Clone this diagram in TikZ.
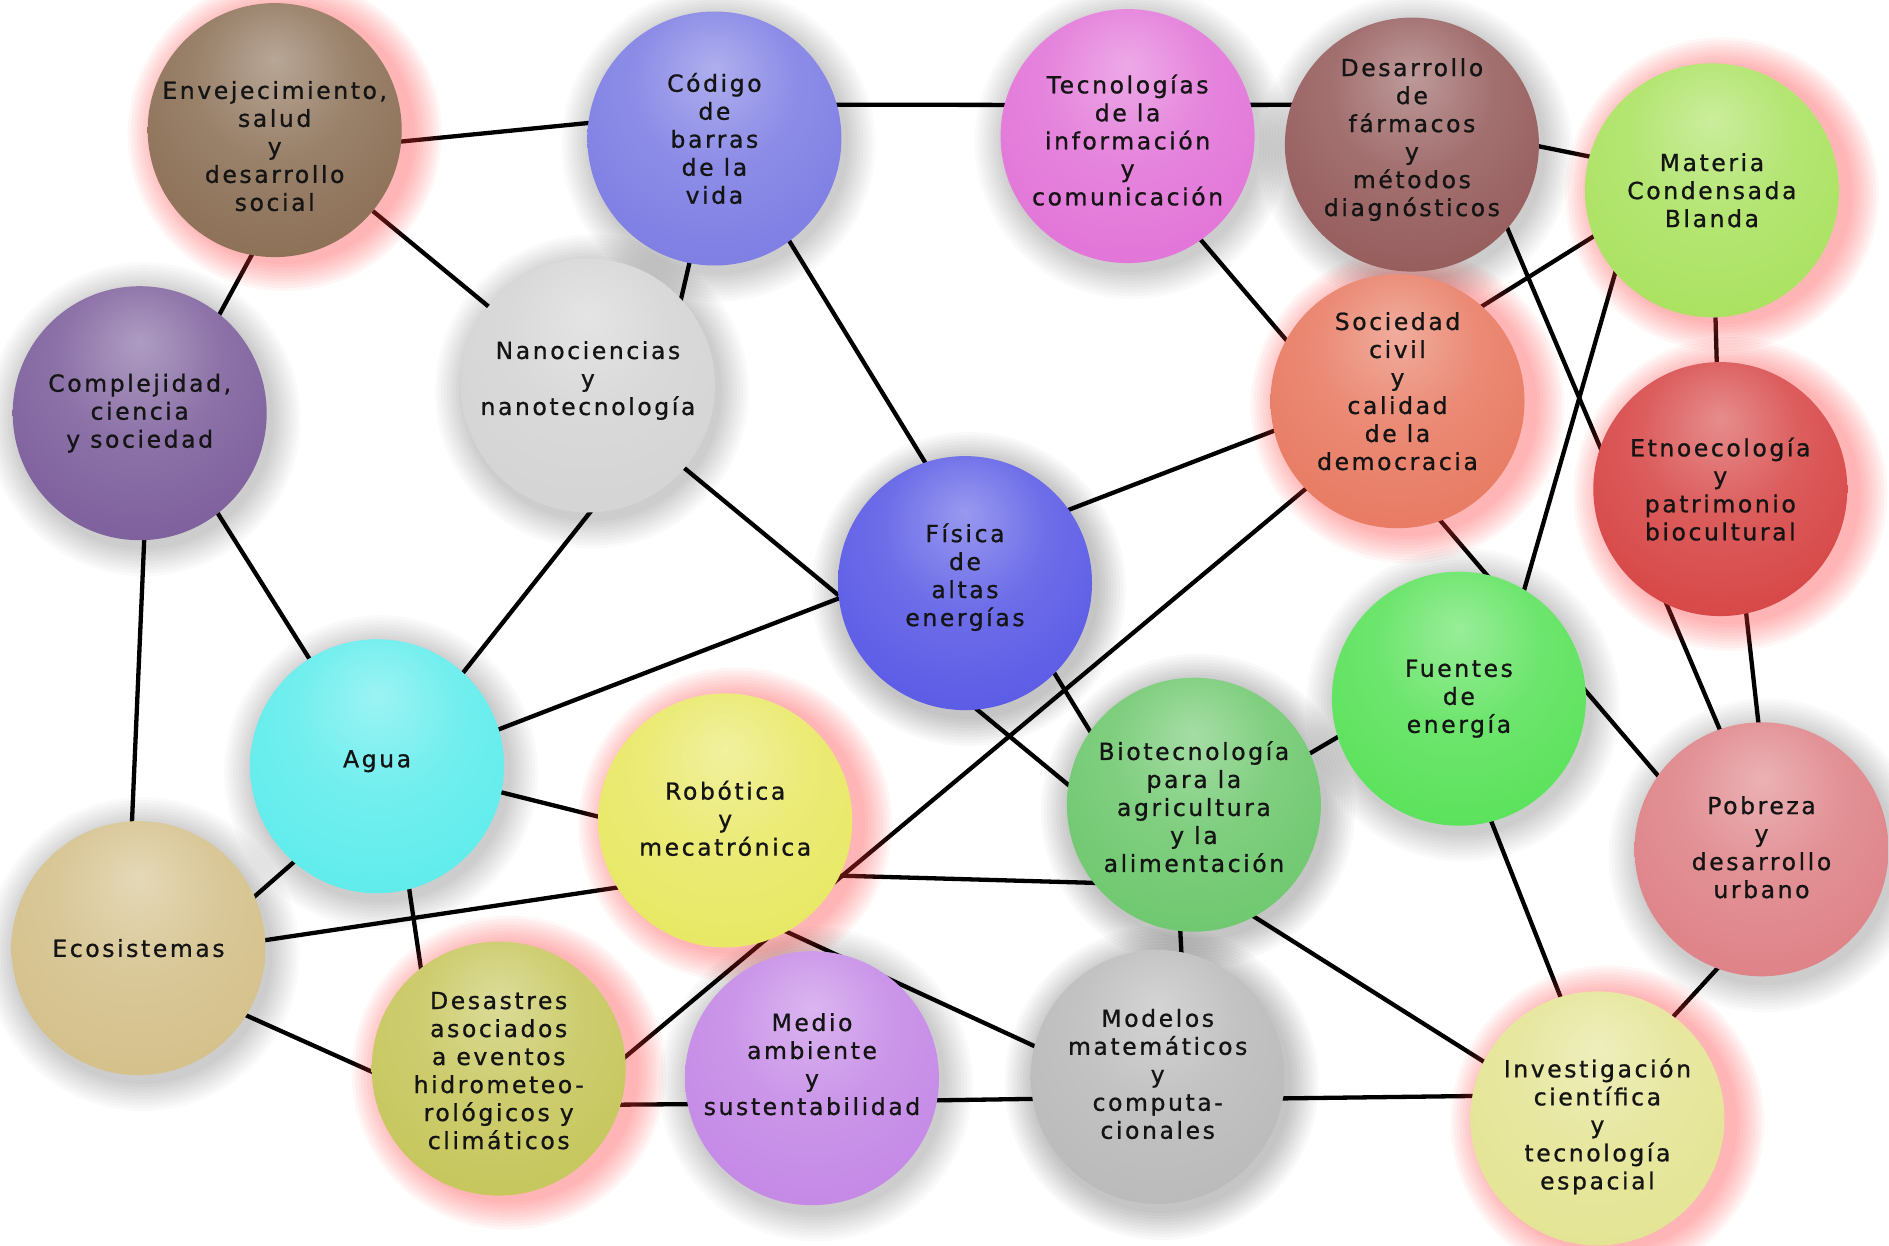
\documentclass[tikz,border=0pt]{standalone}
\usepackage{fontspec}
\newfontfamily\lblfont{DejaVu Sans}[LetterSpace=11,FakeBold=0.9]
\usetikzlibrary{calc}
\pgfdeclarelayer{edges}
\pgfdeclarelayer{glow}
\pgfsetlayers{edges,glow,main}
\colorlet{sphc}{gray}
\pgfdeclareradialshading[sphc]{sphshade}{\pgfpoint{0bp}{14bp}}{%
  color(0bp)=(sphc!62!white);
  color(16bp)=(sphc!88!white);
  color(34bp)=(sphc);
  color(50bp)=(sphc!85!black);
  color(60bp)=(sphc!60!black);
  color(70bp)=(sphc!40!black)}
\definecolor{cEnv}{RGB}{140,112,86}
\definecolor{cCod}{RGB}{125,125,228}
\definecolor{cTec}{RGB}{226,116,216}
\definecolor{cFar}{RGB}{150,92,92}
\definecolor{cMat}{RGB}{170,226,96}
\definecolor{cCom}{RGB}{125,95,156}
\definecolor{cNan}{RGB}{212,212,212}
\definecolor{cSoc}{RGB}{232,122,98}
\definecolor{cEtn}{RGB}{215,70,70}
\definecolor{cFis}{RGB}{90,90,230}
\definecolor{cFue}{RGB}{90,226,90}
\definecolor{cAgu}{RGB}{95,236,236}
\definecolor{cBio}{RGB}{110,200,110}
\definecolor{cRob}{RGB}{232,232,100}
\definecolor{cPob}{RGB}{222,130,135}
\definecolor{cEco}{RGB}{212,192,138}
\definecolor{cDes}{RGB}{198,198,92}
\definecolor{cMed}{RGB}{196,136,230}
\definecolor{cMod}{RGB}{186,186,186}
\definecolor{cInv}{RGB}{228,228,148}
\definecolor{glowred}{RGB}{255,60,60}
\newcommand\softhalo[5]{%
  \begin{pgfonlayer}{glow}
    \foreach \k in {1,...,10}{\fill[#2,opacity=#5] ($(#1)+(#3,#4)$) circle[radius=127pt+3pt*\k];}
  \end{pgfonlayer}}
\tikzset{
  sph/.style={circle, minimum size=254pt, inner sep=0pt, /utils/exec={\colorlet{sphc}{#1}}, shading=sphshade},
  lbl/.style={font=\lblfont\fontsize{23.5}{28}\selectfont, align=center, text=black!92, inner sep=0pt},
  edge/.style={draw=black, line width=4.3pt}
}
\begin{document}
\begin{tikzpicture}[x=1pt,y=-1pt]
\useasboundingbox (0,0) rectangle (1889,1246);
\begin{pgfonlayer}{edges}
\fill[white] (0,0) rectangle (1889,1246);
\end{pgfonlayer}
% spheres
\node[sph=cEnv] (env) at (274.7,130.1) {};
\node[sph=cCod] (cod) at (714.4,138.5) {};
\node[sph=cTec] (tec) at (1127.6,136.1) {};
\node[sph=cFar] (far) at (1411.9,144.6) {};
\node[sph=cMat] (mat) at (1711.9,190.3) {};
\node[sph=cCom] (com) at (139.7,413.2) {};
\node[sph=cNan] (nan) at (587.9,385.5) {};
\node[sph=cSoc] (soc) at (1397.5,401.2) {};
\node[sph=cEtn] (etn) at (1720.3,489.1) {};
\node[sph=cFis] (fis) at (965,583.1) {};
\node[sph=cFue] (fue) at (1458.9,698.7) {};
\node[sph=cAgu] (agu) at (377.1,766.2) {};
\node[sph=cBio] (bio) at (1193.9,804.7) {};
\node[sph=cRob] (rob) at (725.2,820.4) {};
\node[sph=cPob] (pob) at (1761.5,849.3) {};
\node[sph=cEco] (eco) at (138.5,948.1) {};
\node[sph=cDes] (des) at (498.7,1068.6) {};
\node[sph=cMed] (med) at (812,1078.2) {};
\node[sph=cMod] (mod) at (1157.7,1077) {};
\node[sph=cInv] (inv) at (1597.4,1118.4) {};
% labels
\node[lbl] (env-t) at ($(env)+(0,16)$) {Envejecimiento,\\salud\\y\\desarrollo\\social};
\node[lbl] (cod-t) at ($(cod)+(0,0)$) {Código\\de\\barras\\de la\\vida};
\node[lbl] (tec-t) at ($(tec)+(0,4)$) {Tecnologías\\de la\\información\\y\\comunicación};
\node[lbl] (far-t) at ($(far)+(0,-5)$) {Desarrollo\\de\\fármacos\\y\\métodos\\diagnósticos};
\node[lbl] (mat-t) at ($(mat)+(0,0)$) {Materia\\Condensada\\Blanda};
\node[lbl] (com-t) at ($(com)+(0,0)$) {Complejidad,\\ciencia\\y sociedad};
\node[lbl] (nan-t) at ($(nan)+(0,-5)$) {Nanociencias\\y\\nanotecnología};
\node[lbl] (soc-t) at ($(soc)+(0,-10)$) {Sociedad\\civil\\y\\calidad\\de la\\democracia};
\node[lbl] (etn-t) at ($(etn)+(0,0)$) {Etnoecología\\y\\patrimonio\\biocultural};
\node[lbl] (fis-t) at ($(fis)+(0,-6)$) {Física\\de\\altas\\energías};
\node[lbl] (fue-t) at ($(fue)+(0,0)$) {Fuentes\\de\\energía};
\node[lbl] (agu-t) at ($(agu)+(0,-5)$) {Agua};
\node[lbl] (bio-t) at ($(bio)+(0,2)$) {Biotecnología\\para la\\agricultura\\y la\\alimentación};
\node[lbl] (rob-t) at ($(rob)+(0,-2)$) {Robótica\\y\\mecatrónica};
\node[lbl] (pob-t) at ($(pob)+(0,-2)$) {Pobreza\\y\\desarrollo\\urbano};
\node[lbl] (eco-t) at ($(eco)+(0,0)$) {Ecosistemas};
\node[lbl] (des-t) at ($(des)+(0,2)$) {Desastres\\asociados\\a eventos\\hidrometeo-\\rológicos y\\climáticos};
\node[lbl] (med-t) at ($(med)+(0,-14)$) {Medio\\ambiente\\y\\sustentabilidad};
\node[lbl] (mod-t) at ($(mod)+(0,-3)$) {Modelos\\matemáticos\\y\\computa-\\cionales};
\node[lbl] (inv-t) at ($(inv)+(0,8)$) {Investigación\\científica\\y\\tecnología\\espacial};
% connectors
\begin{pgfonlayer}{edges}
\draw[edge] ($(env)+(0,24)$) -- ($(cod)+(0,-28)$);
\draw[edge] (env) -- ($(bio)+(-70,26)$);
\draw[edge] ($(env)+(45,0)$) -- ($(com)+(26,0)$);
\draw[edge] ($(cod)+(0,-34)$) -- ($(tec)+(0,-31)$);
\draw[edge] ($(cod)+(4,0)$) -- ($(nan)+(73,0)$);
\draw[edge] ($(cod)+(12,0)$) -- ($(bio)+(-68,-15)$);
\draw[edge] ($(tec)+(0,-31)$) -- ($(far)+(0,-40)$);
\draw[edge] ($(tec)+(0,18)$) -- ($(pob)+(-62,-25)$);
\draw[edge] ($(far)+(0,-24)$) -- ($(mat)+(0,-9)$);
\draw[edge] ($(far)+(60,0)$) -- ($(pob)+(-16,-59)$);
\draw[edge] ($(mat)+(0,-28)$) -- ($(soc)+(0,-42)$);
\draw[edge] (mat) -- (etn);
\draw[edge] ($(mat)+(-73,0)$) -- ($(fue)+(34,0)$);
\draw[edge] ($(com)+(15,0)$) -- (agu);
\draw[edge] ($(com)+(10,0)$) -- ($(eco)+(-12,0)$);
\draw[edge] ($(nan)+(59,55)$) -- ($(agu)+(12,0)$);
\draw[edge] ($(soc)+(0,-18)$) -- ($(agu)+(0,10)$);
\draw[edge] ($(soc)+(0,11)$) -- ($(des)+(61,43)$);
\draw[edge] ($(bio)+(0,17)$) -- ($(fue)+(0,-33)$);
\draw[edge] ($(fue)+(-16,0)$) -- ($(inv)+(11,0)$);
\draw[edge] ($(etn)+(12,0)$) -- ($(pob)+(11,0)$);
\draw[edge] ($(agu)+(0,-5)$) -- ($(rob)+(0,28)$);
\draw[edge] ($(agu)+(0,23)$) -- ($(eco)+(0,50)$);
\draw[edge] ($(agu)+(14,0)$) -- ($(des)+(-63,0)$);
\draw[edge] ($(rob)+(0,51)$) -- ($(eco)+(0,11)$);
\draw[edge] ($(rob)+(0,52)$) -- ($(bio)+(0,81)$);
\draw[edge] ($(rob)+(0,83)$) -- ($(mod)+(0,26)$);
\draw[edge] ($(eco)+(0,19)$) -- ($(des)+(0,60)$);
\draw[edge] ($(des)+(0,37)$) -- ($(med)+(0,25)$);
\draw[edge] ($(med)+(0,24)$) -- ($(mod)+(0,20)$);
\draw[edge] ($(mod)+(0,23)$) -- ($(inv)+(0,-24)$);
\draw[edge] ($(mod)+(30,0)$) -- ($(bio)+(-20,0)$);
\draw[edge] ($(bio)+(0,74)$) -- ($(inv)+(0,15)$);
\draw[edge] ($(pob)+(0,71)$) -- ($(inv)+(0,-19)$);
\end{pgfonlayer}
% glows and shadows
\softhalo{env}{glowred}{10}{4}{0.045}
\softhalo{mat}{glowred}{10}{4}{0.045}
\softhalo{soc}{glowred}{10}{5}{0.045}
\softhalo{etn}{glowred}{10}{5}{0.045}
\softhalo{rob}{glowred}{10}{4}{0.045}
\softhalo{des}{glowred}{10}{4}{0.045}
\softhalo{inv}{glowred}{10}{4}{0.045}
\softhalo{cod}{black}{4}{6}{0.02}
\softhalo{tec}{black}{4}{6}{0.02}
\softhalo{far}{black}{4}{6}{0.02}
\softhalo{com}{black}{4}{6}{0.02}
\softhalo{nan}{black}{4}{6}{0.02}
\softhalo{fis}{black}{4}{6}{0.022}
\softhalo{fue}{black}{4}{6}{0.02}
\softhalo{agu}{black}{4}{6}{0.02}
\softhalo{bio}{black}{4}{6}{0.022}
\softhalo{pob}{black}{4}{6}{0.02}
\softhalo{eco}{black}{4}{6}{0.02}
\softhalo{med}{black}{4}{6}{0.02}
\softhalo{mod}{black}{4}{6}{0.022}
\end{tikzpicture}
\end{document}
